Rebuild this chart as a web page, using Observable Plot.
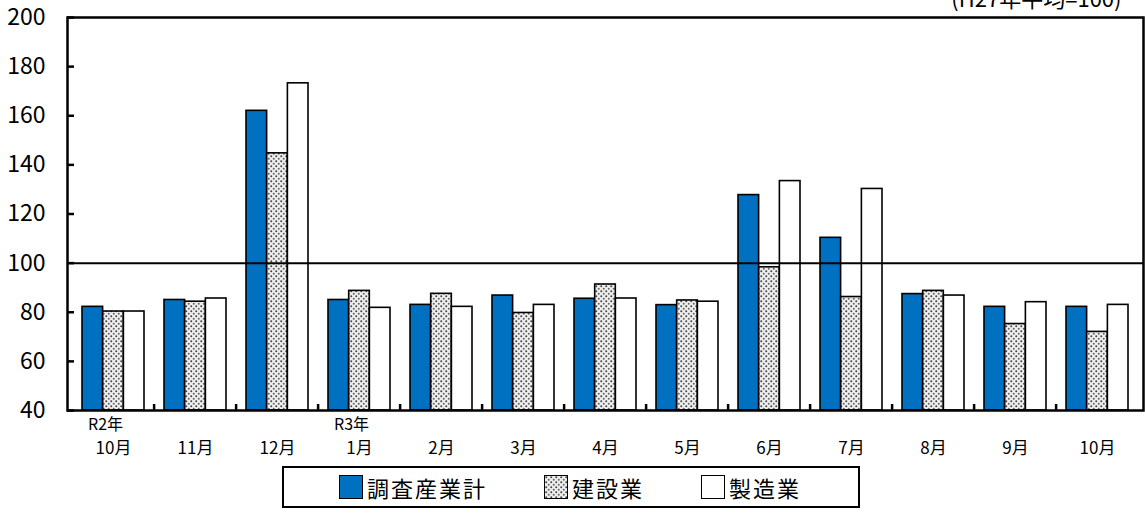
<!DOCTYPE html>
<html><head><meta charset="utf-8">
<script src="https://cdn.jsdelivr.net/npm/d3@7"></script>
<script src="https://cdn.jsdelivr.net/npm/@observablehq/plot@0.6"></script>
<style>
body{margin:0;background:#fff;font-family:"Noto Sans CJK JP",sans-serif;}
#wrap{position:relative;width:1145px;height:517px;overflow:hidden;}
#legend{position:absolute;left:282px;top:466px;width:574px;height:38px;border:2px solid #000;box-sizing:content-box;font-size:22px;color:#000;}
.item{position:absolute;top:0;height:38px;display:flex;align-items:center;}
.sw{width:22px;height:22px;border:1.5px solid #000;margin-right:4px;box-sizing:content-box;}
.item span{letter-spacing:2px;}
</style></head><body>
<div id="wrap"><div id="chart"></div><div id="legend"></div></div>
<script>
const monthKeys = ["R2-10","R2-11","R2-12","R3-01","R3-02","R3-03","R3-04","R3-05","R3-06","R3-07","R3-08","R3-09","R3-10"];
const monthLabels = ["10月","11月","12月","1月","2月","3月","4月","5月","6月","7月","8月","9月","10月"];
const yearLabels = [["R2-10","R2年"],["R3-01","R3年"]];
const seriesNames = ["調査産業計","建設業","製造業"];
const totalIndustry = [82.2,85.0,162.0,85.0,83.0,86.8,85.5,82.9,127.7,110.3,87.4,82.2,82.2];
const construction = [80.3,84.3,144.7,88.7,87.5,79.7,91.3,84.8,98.3,86.2,88.7,75.2,72.0];
const manufacturing = [80.3,85.6,173.2,81.8,82.2,83.0,85.6,84.3,133.4,130.2,86.8,84.1,83.0];
const yTicks = [40,60,80,100,120,140,160,180,200];
const noteText = "(H27年平均=100)";
const baseValue = 100;

const seriesValues = [totalIndustry, construction, manufacturing];
const fills = ["#0070C0","url(#dots)","#ffffff"];

const W = 1145, H = 460, mL = 67, mR = 2, mT = 17, mB = 50;
const plotW = W - mL - mR, plotH = H - mT - mB;
const pInner = 0.25, pOuter = 0.125;
const step = plotW / (monthKeys.length - pInner + 2 * pOuter);
const bw = step * (1 - pInner);
const barW = bw / 3;

const barMarks = seriesNames.map((name, i) => {
  const rows = monthKeys.map((k, j) => ({key: k, value: seriesValues[i][j], series: name}));
  return Plot.barY(rows, {
    x: "key", y1: yTicks[0], y2: "value",
    fill: fills[i], stroke: "#000", strokeWidth: 1.6,
    insetLeft: i * barW, insetRight: (2 - i) * barW
  });
});

const monthRows = monthKeys.map((k, j) => ({key: k, label: monthLabels[j]}));
const yearRows = yearLabels.map(([k, l]) => ({key: k, label: l}));

const chart = Plot.plot({
  width: W, height: H,
  marginLeft: mL, marginRight: mR, marginTop: mT, marginBottom: mB,
  style: {fontFamily: '"Noto Sans CJK JP", sans-serif', color: "#000", background: "#fff", overflow: "visible"},
  x: {type: "band", domain: monthKeys, paddingInner: pInner, paddingOuter: pOuter, axis: null},
  y: {domain: [40, 200], ticks: yTicks, label: null},
  marks: [
    ...barMarks,
    Plot.ruleY([baseValue], {stroke: "#000", strokeWidth: 2}),
    Plot.tickY(yTicks, {y: d => d, stroke: "#000", strokeWidth: 2.5, insetRight: plotW - 7}),
    Plot.tickX(monthKeys.slice(1), {x: d => d, dx: -step / 2, stroke: "#000", strokeWidth: 2.5, insetTop: plotH - 6}),
    Plot.axisY(yTicks, {label: null, tickSize: 0, tickPadding: 22, fontSize: 23, tickFormat: d => d}),
    Plot.frame({stroke: "#000", strokeWidth: 2.5}),
    Plot.text(monthRows, {x: "key", text: "label", frameAnchor: "bottom", lineAnchor: "middle", dy: 38, fontSize: 17}),
    Plot.text(yearRows, {x: "key", text: "label", frameAnchor: "bottom", lineAnchor: "middle", dy: 14, dx: -8, fontSize: 16}),
    Plot.text([noteText], {frameAnchor: "top-right", textAnchor: "end", lineAnchor: "bottom", dx: -22, dy: -11, fontSize: 22})
  ]
});

const defs = `<defs><pattern id="dots" width="5" height="5" patternUnits="userSpaceOnUse">
<rect width="5" height="5" fill="#eeeeee"/>
<circle cx="1.25" cy="1.25" r="1" fill="#444"/>
<circle cx="3.75" cy="3.75" r="1" fill="#666"/>
</pattern></defs>`;
d3.select(chart).insert("g", ":first-child").html(defs);
document.getElementById("chart").appendChild(chart);

const legend = document.getElementById("legend");
const legendX = [55, 260, 417];
seriesNames.forEach((name, i) => {
  const item = document.createElement("div");
  item.className = "item";
  item.style.left = legendX[i] + "px";
  const sw = i === 1
    ? `<svg class="sw" width="22" height="22" style="display:block"><defs><pattern id="dots2" width="5" height="5" patternUnits="userSpaceOnUse"><rect width="5" height="5" fill="#eeeeee"/><circle cx="1.25" cy="1.25" r="1" fill="#444"/><circle cx="3.75" cy="3.75" r="1" fill="#666"/></pattern></defs><rect width="22" height="22" fill="url(#dots2)"/></svg>`
    : `<div class="sw" style="background:${fills[i]}"></div>`;
  item.innerHTML = sw + `<span>${name}</span>`;
  legend.appendChild(item);
});
</script></body></html>
